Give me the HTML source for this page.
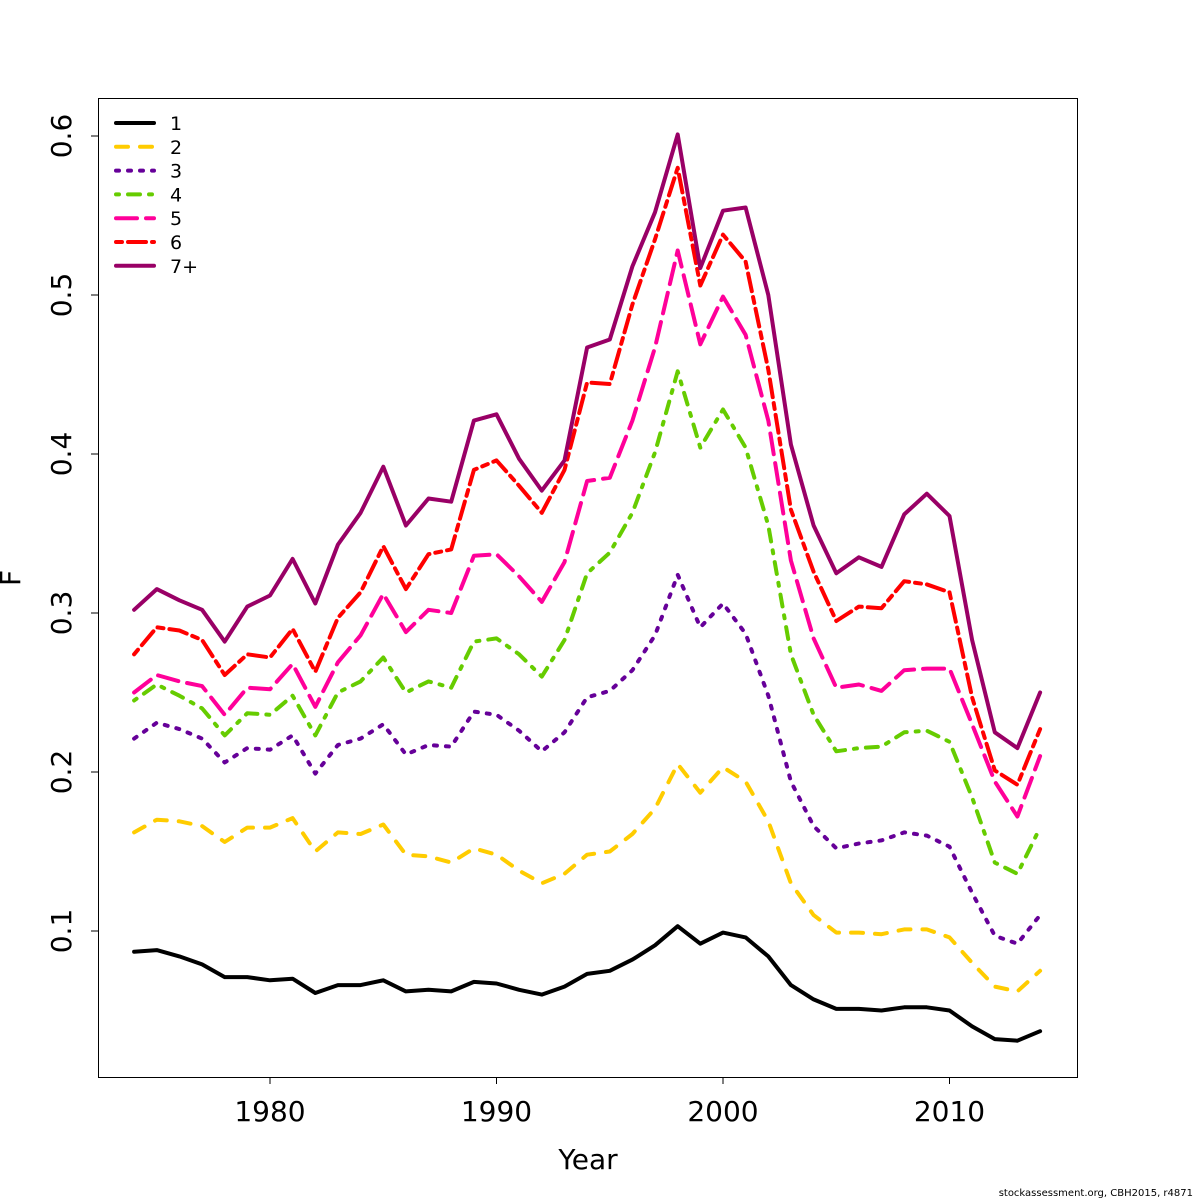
<!DOCTYPE html>
<html><head><meta charset="utf-8"><style>
html,body{margin:0;padding:0;background:#fff;}
svg{display:block;font-family:"DejaVu Sans","Liberation Sans",sans-serif;}
</style></head><body>
<svg id="chart" width="1200" height="1200" viewBox="0 0 1200 1200" xmlns="http://www.w3.org/2000/svg">
<rect x="0" y="0" width="1200" height="1200" fill="#fff"/>
<rect x="98.5" y="98.5" width="979" height="979" fill="none" stroke="#000" stroke-width="1"/>
<g id="xaxis"></g>
<g id="yaxis"></g>
<g id="series"></g>
<g id="legend"></g>
<text x="588" y="1169" font-size="28" text-anchor="middle">Year</text>
<text transform="translate(20,578) rotate(-90)" font-size="28" text-anchor="middle">F</text>
<text x="1193" y="1196" font-size="10" text-anchor="end">stockassessment.org, CBH2015, r4871</text>
</svg>
<script>
const years = [];
for (let y = 1974; y <= 2014; y++) years.push(y);
const seriesNames = ["1","2","3","4","5","6","7+"];
const s1 = [.087,.088,.084,.079,.071,.071,.069,.070,.061,.066,.066,.069,.062,.063,.062,.068,.067,.063,.060,.065,.073,.075,.082,.091,.103,.092,.099,.096,.084,.066,.057,.051,.051,.050,.052,.052,.050,.040,.032,.031,.037];
const s2 = [.162,.170,.169,.166,.156,.165,.165,.171,.150,.162,.161,.167,.148,.147,.143,.152,.148,.138,.130,.136,.148,.150,.161,.177,.205,.187,.203,.194,.169,.130,.110,.099,.099,.098,.101,.101,.096,.080,.065,.062,.075];
const s3 = [.221,.231,.227,.221,.206,.215,.214,.223,.199,.217,.221,.230,.211,.217,.216,.238,.236,.226,.213,.225,.247,.251,.264,.286,.324,.291,.306,.287,.248,.194,.166,.152,.155,.157,.162,.160,.153,.124,.097,.092,.110];
const s4 = [.245,.255,.248,.240,.223,.237,.236,.248,.223,.250,.257,.272,.250,.257,.253,.282,.284,.274,.260,.283,.325,.338,.363,.401,.452,.404,.428,.404,.355,.274,.236,.213,.215,.216,.225,.226,.219,.184,.143,.136,.165];
const s5 = [.250,.261,.257,.254,.236,.253,.252,.268,.241,.269,.286,.312,.288,.302,.300,.336,.337,.323,.307,.332,.383,.385,.421,.467,.528,.469,.499,.475,.421,.333,.284,.253,.255,.251,.264,.265,.265,.230,.194,.172,.210];
const s6 = [.274,.291,.289,.283,.261,.274,.272,.290,.263,.297,.313,.342,.315,.337,.340,.390,.396,.380,.363,.390,.445,.444,.494,.535,.580,.506,.538,.521,.453,.365,.326,.295,.304,.303,.320,.318,.313,.247,.201,.192,.227];
const s7 = [.302,.315,.308,.302,.282,.304,.311,.334,.306,.343,.363,.392,.355,.372,.370,.421,.425,.397,.377,.396,.467,.472,.518,.552,.601,.517,.553,.555,.500,.406,.355,.325,.335,.329,.362,.375,.361,.283,.225,.215,.250];
const xTicks = [1980,1990,2000,2010];
const yTicks = [0.1,0.2,0.3,0.4,0.5,0.6];
const allSeries = [s1,s2,s3,s4,s5,s6,s7];
const colors = ["#000000","#FFCC00","#660099","#66CC00","#FF0099","#FF0000","#990066"];
const dashes = ["", "12,12", "3,9", "3,9,12,9", "21,9", "6,6,18,6", ""];
const NS = "http://www.w3.org/2000/svg";
function xs(v){ return 270 + (v - 1980) * 22.65; }
function ys(v){ return 931 - (v - 0.1) * 1590; }
const xg = document.getElementById('xaxis');
const yg = document.getElementById('yaxis');
const sg = document.getElementById('series');
const lg = document.getElementById('legend');
xTicks.forEach(t => {
  const l = document.createElementNS(NS,'line');
  
  
  l.setAttribute('x1',xs(t)); l.setAttribute('x2',xs(t));
  l.setAttribute('y1',1077); l.setAttribute('y2',1084);
  l.setAttribute('stroke','#000');
  xg.appendChild(l);
  const tx = document.createElementNS(NS,'text');
  
  
  tx.setAttribute('x',xs(t)); tx.setAttribute('y',1121);
  tx.setAttribute('font-size','28'); tx.setAttribute('text-anchor','middle');
  tx.textContent = t;
  xg.appendChild(tx);
});
yTicks.forEach(t => {
  const l = document.createElementNS(NS,'line');
  
  
  l.setAttribute('x1',91); l.setAttribute('x2',98);
  l.setAttribute('y1',ys(t)); l.setAttribute('y2',ys(t));
  l.setAttribute('stroke','#000');
  yg.appendChild(l);
  const tx = document.createElementNS(NS,'text');
  
  
  tx.setAttribute('transform','translate(71,'+ys(t)+') rotate(-90)');
  tx.setAttribute('font-size','28'); tx.setAttribute('text-anchor','middle');
  tx.textContent = t.toFixed(1);
  yg.appendChild(tx);
});
allSeries.forEach((s,i) => {
  const p = document.createElementNS(NS,'polyline');
  
  
  p.setAttribute('points', s.map((v,j) => xs(years[j]).toFixed(1)+','+ys(v).toFixed(1)).join(' '));
  p.setAttribute('fill','none');
  p.setAttribute('stroke',colors[i]);
  p.setAttribute('stroke-width','4');
  p.setAttribute('stroke-linejoin','round');
  p.setAttribute('stroke-linecap','round');
  if (dashes[i]) p.setAttribute('stroke-dasharray',dashes[i]);
  sg.appendChild(p);
  const ly = 123 + i * 23.8;
  const ll = document.createElementNS(NS,'line');
  
  
  ll.setAttribute('x1',116); ll.setAttribute('x2',154);
  ll.setAttribute('y1',ly); ll.setAttribute('y2',ly);
  ll.setAttribute('stroke',colors[i]); ll.setAttribute('stroke-width','4');
  ll.setAttribute('stroke-linecap','round');
  if (dashes[i]) ll.setAttribute('stroke-dasharray',dashes[i]);
  lg.appendChild(ll);
  const lt = document.createElementNS(NS,'text');
  
  
  lt.setAttribute('x',170); lt.setAttribute('y',ly + 7);
  lt.setAttribute('font-size','19');
  lt.textContent = seriesNames[i];
  lg.appendChild(lt);
});
</script>
</body></html>
